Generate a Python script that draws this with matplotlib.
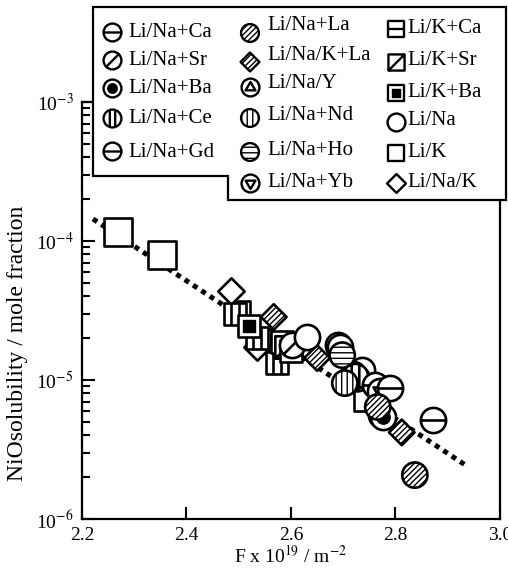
import numpy as np
import matplotlib
matplotlib.use("Agg")
import matplotlib.pyplot as plt
from matplotlib.path import Path
from matplotlib.patches import Polygon

plt.rcParams['font.family'] = ['Liberation Serif', 'DejaVu Serif']
plt.rcParams['mathtext.fontset'] = 'stix'
plt.rcParams['hatch.linewidth'] = 1.0

# ---- data (F x 1e19 / m^-2, NiO solubility / mole fraction) ----
li_na_ca_F = [2.790, 2.872]
li_na_ca_S = [8.7e-6, 5.15e-6]
li_na_sr_F = [2.602]
li_na_sr_S = [1.80e-5]
li_na_ba_F = [2.776]
li_na_ba_S = [5.4e-6]
li_na_ce_F = [2.722]
li_na_ce_S = [1.06e-5]
li_na_gd_F = [2.760]
li_na_gd_S = [9.2e-6]
li_na_la_F = [2.766, 2.837]
li_na_la_S = [6.4e-6, 2.07e-6]
li_na_k_la_F = [2.567, 2.650, 2.812]
li_na_k_la_S = [2.84e-5, 1.44e-5, 4.2e-6]
li_na_y_F = [2.690]
li_na_y_S = [1.78e-5]
li_na_nd_F = [2.703]
li_na_nd_S = [9.5e-6]
li_na_ho_F = [2.698, 2.727]
li_na_ho_S = [1.51e-5, 1.02e-5]
li_na_yb_F = [2.770]
li_na_yb_S = [8.3e-6]
li_k_ca_F = [2.600]
li_k_ca_S = [1.62e-5]
li_k_sr_F = [2.590]
li_k_sr_S = [1.72e-5]
li_k_ba_F = [2.520, 2.583]
li_k_ba_S = [2.45e-5, 1.87e-5]
li_k_x_F = [2.493, 2.535, 2.573]
li_k_x_S = [3.0e-5, 2.0e-5, 1.32e-5]
li_na_F = [2.631, 2.694, 2.736, 2.766, 2.718, 2.772]
li_na_S = [2.04e-5, 1.73e-5, 1.18e-5, 8.9e-6, 1.10e-5, 5.6e-6]
li_k_F = [2.268, 2.353, 2.742, 2.500, 2.540]
li_k_S = [1.17e-4, 7.9e-5, 7.2e-6, 3.1e-5, 1.95e-5]
li_na_k_F = [2.485, 2.535, 2.598]
li_na_k_S = [4.37e-5, 1.73e-5, 1.70e-5]

fit_F = [2.221, 2.937]
fit_S = [1.44e-4, 2.4e-6]

# ---- marker shapes ----
M, L, C = Path.MOVETO, Path.LINETO, Path.CLOSEPOLY
circ = Path.unit_circle()
sq = Path([(-1, -1), (1, -1), (1, 1), (-1, 1), (-1, -1)], [M, L, L, L, C])
dm = Path([(0, 1), (1, 0), (0, -1), (-1, 0), (0, 1)], [M, L, L, L, C])


def add_lines(base, segs):
    parts = [base] + [Path(s, [M, L]) for s in segs]
    return Path.make_compound_path(*parts)


c_h = add_lines(circ, [[(-1, 0), (1, 0)]])
c_d = add_lines(circ, [[(-0.707, -0.707), (0.707, 0.707)]])
c_v2 = add_lines(circ, [[(-0.3, -0.95), (-0.3, 0.95)], [(0.3, -0.95), (0.3, 0.95)]])
tri_up = Path([(0, 0.62), (0.55, -0.32), (-0.55, -0.32), (0, 0.62)], [M, L, L, C])
tri_dn = Path([(0, -0.62), (0.55, 0.32), (-0.55, 0.32), (0, -0.62)], [M, L, L, C])
c_tu = Path.make_compound_path(circ, tri_up)
c_td = Path.make_compound_path(circ, tri_dn)
s_h = add_lines(sq, [[(-1, 0), (1, 0)]])
s_d = add_lines(sq, [[(-1, -1), (1, 1)]])
s_v2 = add_lines(sq, [[(-0.33, -1), (-0.33, 1)], [(0.33, -1), (0.33, 1)]])


def draw(ax, x, y, kind, s, lw=1.9, z=3):
    kw = dict(s=s, facecolors='white', edgecolors='black', linewidths=lw, zorder=z)
    if kind == 'ca':
        ax.scatter(x, y, marker=c_h, **kw)
    elif kind == 'sr':
        ax.scatter(x, y, marker=c_d, **kw)
    elif kind == 'ba':
        ax.scatter(x, y, marker='o', **kw)
        ax.scatter(x, y, marker='o', s=s * 0.28, color='black', zorder=z)
    elif kind == 'ce':
        ax.scatter(x, y, marker=c_v2, **kw)
    elif kind == 'gd':
        ax.scatter(x, y, marker=c_h, **kw)
    elif kind == 'la':
        ax.scatter(x, y, marker='o', hatch='//////', **kw)
    elif kind == 'kla':
        ax.scatter(x, y, marker=dm, hatch='//////', **kw)
    elif kind == 'y':
        ax.scatter(x, y, marker=c_tu, **kw)
    elif kind == 'nd':
        ax.scatter(x, y, marker='o', hatch='|||', **kw)
    elif kind == 'ho':
        ax.scatter(x, y, marker='o', hatch='---', **kw)
    elif kind == 'yb':
        ax.scatter(x, y, marker=c_td, **kw)
    elif kind == 'kca':
        ax.scatter(x, y, marker=s_h, **kw)
    elif kind == 'ksr':
        ax.scatter(x, y, marker=s_d, **kw)
    elif kind == 'kba':
        ax.scatter(x, y, marker=sq, **kw)
        ax.scatter(x, y, marker='s', s=s * 0.3, color='black', zorder=z)
    elif kind == 'kx':
        ax.scatter(x, y, marker=s_v2, **kw)
    elif kind == 'na':
        ax.scatter(x, y, marker='o', **kw)
    elif kind == 'k':
        ax.scatter(x, y, marker=sq, **kw)
    elif kind == 'nak':
        ax.scatter(x, y, marker=dm, **kw)


fig = plt.figure(figsize=(5.08, 5.74), dpi=100)
ax = fig.add_axes([82 / 508, 1 - 519 / 574, 418 / 508, 417 / 574])
ax.set_yscale('log')
ax.set_xlim(2.2, 3.0)
ax.set_ylim(1e-6, 1e-3)

ax.plot(fit_F, fit_S, color='black', lw=3.6, linestyle=(0, (1, 1)),
        dash_capstyle='butt', zorder=2)

CIRC, SQ_S, BIG = 330, 260, 390
draw(ax, li_k_F[:2], li_k_S[:2], 'k', BIG)
draw(ax, li_k_F[2:], li_k_S[2:], 'k', SQ_S)
draw(ax, li_na_k_F, li_na_k_S, 'nak', 360)
draw(ax, li_k_x_F, li_k_x_S, 'kx', SQ_S)
draw(ax, li_k_ba_F, li_k_ba_S, 'kba', SQ_S)
draw(ax, li_k_sr_F, li_k_sr_S, 'ksr', SQ_S)
draw(ax, li_k_ca_F, li_k_ca_S, 'kca', SQ_S)
draw(ax, li_na_k_la_F, li_na_k_la_S, 'kla', 340)
draw(ax, li_na_sr_F, li_na_sr_S, 'sr', CIRC)
draw(ax, li_na_y_F, li_na_y_S, 'y', CIRC)
draw(ax, li_na_F, li_na_S, 'na', CIRC)
draw(ax, li_na_ho_F, li_na_ho_S, 'ho', CIRC)
draw(ax, li_na_ce_F, li_na_ce_S, 'ce', CIRC)
draw(ax, li_na_nd_F, li_na_nd_S, 'nd', CIRC)
draw(ax, li_na_gd_F, li_na_gd_S, 'gd', CIRC)
draw(ax, li_na_yb_F, li_na_yb_S, 'yb', CIRC)
draw(ax, li_na_ca_F, li_na_ca_S, 'ca', CIRC)
draw(ax, li_na_ba_F, li_na_ba_S, 'ba', CIRC)
draw(ax, li_na_la_F, li_na_la_S, 'la', CIRC)

ax.set_xticks([2.2, 2.4, 2.6, 2.8, 3.0])
ax.set_xticklabels(['2.2', '2.4', '2.6', '2.8', '3.0'])
ax.set_yticks([1e-6, 1e-5, 1e-4, 1e-3])
ax.set_yticklabels([r'10$^{-6}$', r'10$^{-5}$', r'10$^{-4}$', r'10$^{-3}$'])
ax.tick_params(axis='both', which='major', direction='in', length=9, width=1.5,
               labelsize=14, pad=6)
ax.tick_params(axis='y', which='minor', direction='in', length=6, width=1.5)
ax.tick_params(axis='y', which='both', right=False)
ax.tick_params(axis='x', top=False)
for sp in ax.spines.values():
    sp.set_linewidth(1.6)
ax.set_xlabel(r'F x 10$^{19}$ / m$^{-2}$', fontsize=14, labelpad=0)
ax.set_ylabel('NiOsolubility / mole fraction', fontsize=17)
ax.yaxis.set_label_coords(-0.128, 0.42)

# ---- legend box (pixel coordinates) ----
lg = fig.add_axes([0, 0, 1, 1])
lg.set_xlim(0, 508)
lg.set_ylim(574, 0)
lg.axis('off')
lg.set_zorder(5)
lg.add_patch(Polygon([(93, 7), (506, 7), (506, 200), (228, 200), (228, 176), (93, 176)],
                     closed=True, facecolor='white', edgecolor='black', lw=1.6))

leg_cols = [
    (['ca', 'sr', 'ba', 'ce', 'gd'],
     ['Li/Na+Ca', 'Li/Na+Sr', 'Li/Na+Ba', 'Li/Na+Ce', 'Li/Na+Gd'],
     112, [32, 60, 88, 118, 151], 128, [37, 65, 93, 123, 157]),
    (['la', 'kla', 'y', 'nd', 'ho', 'yb'],
     ['Li/Na+La', 'Li/Na/K+La', 'Li/Na/Y', 'Li/Na+Nd', 'Li/Na+Ho', 'Li/Na+Yb'],
     250, [33, 62, 87, 118, 152, 183], 267, [30, 60, 88, 120, 155, 187]),
    (['kca', 'ksr', 'kba', 'na', 'k', 'nak'],
     ['Li/K+Ca', 'Li/K+Sr', 'Li/K+Ba', 'Li/Na', 'Li/K', 'Li/Na/K'],
     396, [29, 62, 93, 122, 153, 183], 407, [33, 65, 97, 125, 157, 187]),
]
for kinds, labels, mx, mys, tx, tys in leg_cols:
    for kind, lab, my, ty in zip(kinds, labels, mys, tys):
        if kind in ('kca', 'ksr', 'kba', 'k'):
            size = 135
        elif kind in ('kla', 'nak'):
            size = 185
        else:
            size = 165
        draw(lg, [mx], [my], kind, size, lw=1.7, z=6)
        lg.text(tx, ty, lab, fontsize=15, ha='left', va='baseline', zorder=7)

fig.savefig('out.png', dpi=100)
